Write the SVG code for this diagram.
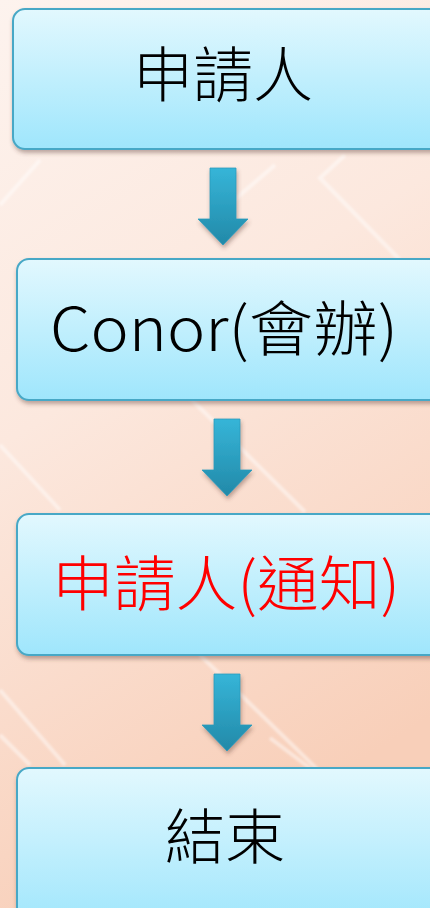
<svg xmlns="http://www.w3.org/2000/svg" width="430" height="908" viewBox="0 0 430 908">
  <defs>
    <linearGradient id="bg" x1="0" y1="0" x2="0.3" y2="1">
      <stop offset="0" stop-color="#fdf3ee"/>
      <stop offset="0.45" stop-color="#fce8de"/>
      <stop offset="1" stop-color="#f8cfb9"/>
    </linearGradient>
    <linearGradient id="box" x1="0" y1="0" x2="0" y2="1">
      <stop offset="0" stop-color="#e2f8fe"/>
      <stop offset="1" stop-color="#9fe6fc"/>
    </linearGradient>
    <linearGradient id="arr" x1="0" y1="0" x2="0" y2="1">
      <stop offset="0" stop-color="#36b5d8"/>
      <stop offset="1" stop-color="#2289a8"/>
    </linearGradient>
    <filter id="sh" x="-10%" y="-10%" width="130%" height="140%">
      <feDropShadow dx="1" dy="3" stdDeviation="2" flood-color="#5a3a30" flood-opacity="0.4"/>
    </filter>
    <filter id="blur"><feGaussianBlur stdDeviation="1.2"/></filter>
    <path id="arrow" d="M-13,0 H13 V51 H25 L0,77 L-25,51 H-13 Z"/>
  </defs>
  <style>
    .bx { fill: url(#box); stroke: #47a8c6; stroke-width: 2; filter: url(#sh); }
    .tx { font-family: "Noto Sans CJK TC", "Noto Sans", sans-serif; font-weight: 300; font-size: 60px; text-anchor: middle; fill: #000; }
    .red { fill: #ff0000; }
    .ar { fill: url(#arr); stroke: #2a9cbc; stroke-width: 0.8; filter: url(#sh); }
    .st { stroke: #ffffff; stroke-opacity: 0.45; stroke-width: 4; fill: none; filter: url(#blur); }
  </style>
  <rect x="0" y="0" width="430" height="908" fill="url(#bg)"/>
  <g id="stripes">
    <path class="st" d="M0,205 L40,160"/>
    <path class="st" d="M275,165 L240,195 L225,210"/>
    <path class="st" d="M345,155 L320,178 L400,260"/>
    <path class="st" d="M190,398 L305,512"/>
    <path class="st" d="M0,445 L60,510"/>
    <path class="st" d="M200,655 L318,770"/>
    <path class="st" d="M0,690 L65,765"/>
    <path class="st" d="M0,735 L30,765"/>
    <path class="st" d="M270,738 L310,768"/>
  </g>
  <g id="connectors">
    <use href="#arrow" class="ar" x="223" y="168"/>
    <use href="#arrow" class="ar" x="227" y="419"/>
    <use href="#arrow" class="ar" x="227" y="674"/>
  </g>
  <g id="n1">
    <rect class="bx" x="13" y="9" width="430" height="140" rx="12"/>
    <text class="tx" x="223" y="97">申請人</text>
  </g>
  <g id="n2">
    <rect class="bx" x="17" y="259" width="430" height="141" rx="12"/>
    <text class="tx" x="224" y="351" textLength="348" lengthAdjust="spacingAndGlyphs">Conor(會辦)</text>
  </g>
  <g id="n3">
    <rect class="bx" x="17" y="514" width="430" height="141" rx="12"/>
    <text class="tx red" x="226" y="606" textLength="348" lengthAdjust="spacingAndGlyphs">申請人(通知)</text>
  </g>
  <g id="n4">
    <rect class="bx" x="17" y="768" width="430" height="160" rx="12"/>
    <text class="tx" x="225" y="859">結束</text>
  </g>
</svg>
